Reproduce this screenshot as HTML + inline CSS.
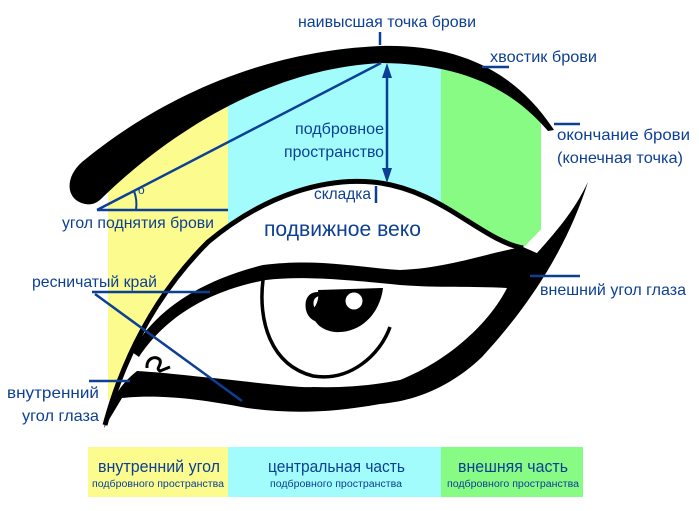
<!DOCTYPE html>
<html><head><meta charset="utf-8"><style>
html,body{margin:0;padding:0;background:#fff;}
svg{display:block;}
text{font-family:"Liberation Sans","DejaVu Sans",sans-serif;fill:#0d3f95;}
</style></head><body>
<svg width="699" height="511" viewBox="0 0 699 511" xmlns="http://www.w3.org/2000/svg">
<rect x="0" y="0" width="699" height="511" fill="#fff"/>
<rect x="108" y="60" width="120" height="340" fill="#fbfb8e"/>
<rect x="228" y="40" width="213" height="240" fill="#a2fcfc"/>
<rect x="441" y="40" width="100" height="240" fill="#88fb84"/>
<path d="M105,425 C128,340 168,282 208,242 C268,192 328,178 372,182 C440,188 480,240 523,248 L587,182 L699,182 L699,511 L0,511 L0,440 L105,440 Z" fill="#fff"/>
<path d="M0,0 H699 V135 H553 C512,68 452,45 380,46 C250,52 150,106 82,162 C66,178 68,200 85,203 L0,203 Z" fill="#fff"/>
<path d="M85,204 C66,200 64,178 82,162 C150,106 250,52 380,46 C452,44 512,66 554,130 L548,131 C506,82 452,64 382,63 C272,68 172,130 102,198 C96,204 91,205 85,204 Z" fill="#000"/>
<path d="M105,425 C128,340 168,282 208,242 C268,192 328,178 372,182 C440,188 480,240 523,248" fill="none" stroke="#000" stroke-width="5"/>
<path d="M132,352 C150,318 190,283 263,265 C320,258 360,268 400,270 C450,268 490,252 523,247 L548,258 C530,275 520,283 507,288 C470,286 440,288 400,285 C340,279 300,276 266,280 C202,292 162,322 139,357 Z" fill="#000"/>
<path d="M588,182 C572,232 542,292 482,357 C442,395 402,402 380,404 C330,413 290,414 247,408 C200,399 160,394 122,398 L104,428 C110,402 118,386 137,371 C170,373 200,377 213,378 C260,383 300,388 313,387 C340,388 370,386 400,380 C450,360 490,322 507,288 C532,255 566,228 588,182 Z" fill="#000"/>
<path d="M147,368 C146,358 156,355 160,360 C162,366 155,368 160,371 L170,367" fill="none" stroke="#000" stroke-width="3"/>
<path d="M263,280 C258,320 270,365 313,376 C350,382 380,355 390,327" fill="none" stroke="#000" stroke-width="3.5"/>
<path d="M318,290 L383,288 C380,314 360,334 335,332 C318,330 310,318 314,308 C320,300 318,292 318,290 Z" fill="#000"/>
<path d="M318,292 C308,292 304,300 306,310 C308,318 314,322 320,322 L322,312 C316,312 312,306 314,300 C316,296 320,296 320,296 Z" fill="#000"/>
<circle cx="354" cy="301" r="8.5" fill="#fff"/>
<g stroke="#0d3f95" stroke-width="2.5" fill="none">
<line x1="380" y1="32" x2="380" y2="45"/>
<line x1="97" y1="210" x2="381" y2="63"/>
<line x1="97" y1="210" x2="228" y2="210"/>
<path d="M134,191 A38,38 0 0 1 136,210" stroke-width="2"/>
<line x1="387" y1="70" x2="387" y2="177"/>
<line x1="376" y1="186" x2="376" y2="203"/>
<line x1="482" y1="67" x2="509" y2="67"/>
<line x1="554" y1="124" x2="580" y2="124"/>
<line x1="92" y1="292" x2="210" y2="292"/>
<line x1="95" y1="294" x2="242" y2="401"/>
<line x1="530" y1="276" x2="580" y2="276"/>
<line x1="89" y1="381" x2="130" y2="381"/>
</g>
<path d="M387,63 L382,78 L392,78 Z" fill="#0d3f95"/>
<path d="M387,183 L382,168 L392,168 Z" fill="#0d3f95"/>
<text x="298" y="27" font-size="16" textLength="178" lengthAdjust="spacingAndGlyphs">наивысшая точка брови</text>
<text x="490" y="62" font-size="16" textLength="107" lengthAdjust="spacingAndGlyphs">хвостик брови</text>
<text x="295" y="134" font-size="16" textLength="89" lengthAdjust="spacingAndGlyphs">подбровное</text>
<text x="284" y="157" font-size="16" textLength="100" lengthAdjust="spacingAndGlyphs">пространство</text>
<text x="557" y="140" font-size="16" textLength="133" lengthAdjust="spacingAndGlyphs">окончание брови</text>
<text x="557" y="163" font-size="16" textLength="126" lengthAdjust="spacingAndGlyphs">(конечная точка)</text>
<text x="314" y="199" font-size="16" textLength="57" lengthAdjust="spacingAndGlyphs">складка</text>
<text x="138" y="194" font-size="12">o</text>
<text x="62" y="228" font-size="16" textLength="152" lengthAdjust="spacingAndGlyphs">угол поднятия брови</text>
<text x="264" y="236" font-size="21" textLength="157" lengthAdjust="spacingAndGlyphs">подвижное веко</text>
<text x="32" y="287" font-size="16" textLength="125" lengthAdjust="spacingAndGlyphs">ресничатый край</text>
<text x="540" y="295" font-size="16" textLength="146" lengthAdjust="spacingAndGlyphs">внешний угол глаза</text>
<text x="7" y="398" font-size="16" textLength="92" lengthAdjust="spacingAndGlyphs">внутренний</text>
<text x="22" y="421" font-size="16" textLength="77" lengthAdjust="spacingAndGlyphs">угол глаза</text>
<rect x="88" y="447" width="140" height="50" fill="#fbfb8e"/>
<rect x="228" y="447" width="213" height="50" fill="#a2fcfc"/>
<rect x="441" y="447" width="142" height="50" fill="#88fb84"/>
<text x="98" y="472" font-size="17" textLength="122" lengthAdjust="spacingAndGlyphs">внутренний угол</text>
<text x="92" y="487" font-size="10" textLength="132" lengthAdjust="spacingAndGlyphs">подбровного пространства</text>
<text x="268" y="472" font-size="17" textLength="137" lengthAdjust="spacingAndGlyphs">центральная часть</text>
<text x="270" y="487" font-size="10" textLength="132" lengthAdjust="spacingAndGlyphs">подбровного пространства</text>
<text x="458" y="472" font-size="17" textLength="110" lengthAdjust="spacingAndGlyphs">внешняя часть</text>
<text x="447" y="487" font-size="10" textLength="132" lengthAdjust="spacingAndGlyphs">подбровного пространства</text>
</svg>
</body></html>
